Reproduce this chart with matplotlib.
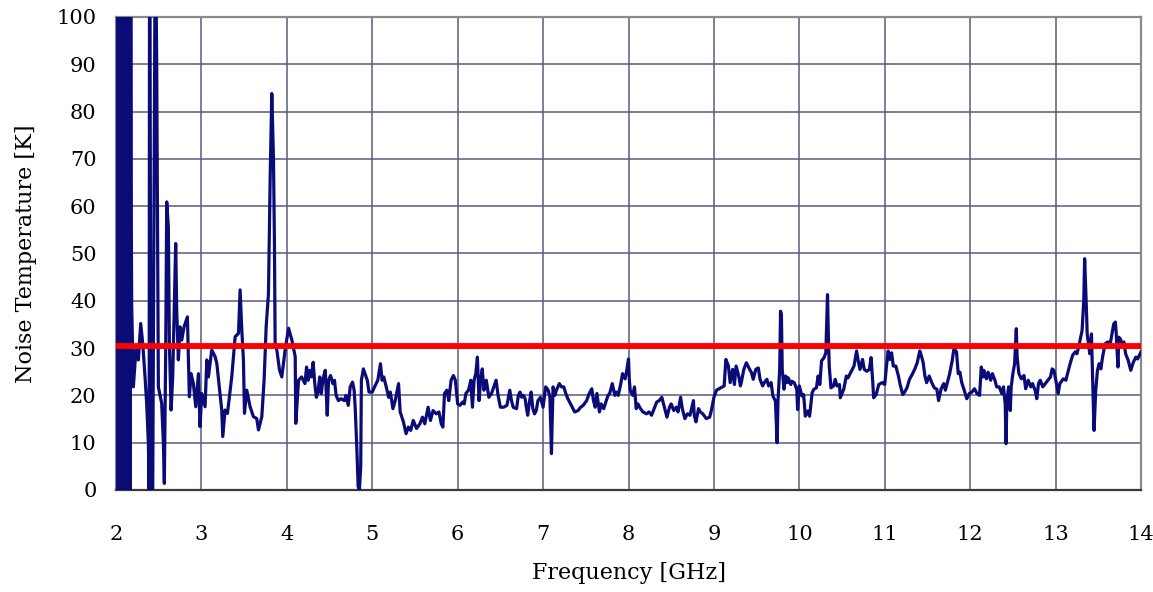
import matplotlib
matplotlib.use("Agg")
import matplotlib.pyplot as plt

# lectura aproximada de la curva de ruido, por tramos (GHz, K)
tramo_2_4 = [
    (2.000, 100), (2.004, 0), (2.022, 0), (2.026, 100), (2.030, 0), (2.034, 100),
    (2.038, 0), (2.042, 100), (2.046, 0), (2.050, 100), (2.054, 0), (2.058, 100),
    (2.062, 0), (2.066, 100), (2.070, 0), (2.074, 100), (2.078, 0), (2.082, 100),
    (2.086, 0), (2.090, 100), (2.094, 0), (2.098, 100), (2.102, 0), (2.106, 100),
    (2.110, 0), (2.114, 100), (2.118, 0), (2.122, 100), (2.126, 0), (2.130, 100),
    (2.134, 0), (2.138, 100), (2.142, 0), (2.146, 100), (2.150, 0), (2.154, 100),
    (2.158, 0), (2.162, 100), (2.166, 0), (2.170, 100), (2.176, 100), (2.180, 53.5),
    (2.184, 38.7), (2.190, 33.8), (2.203, 21.8), (2.234, 29.6), (2.262, 27.5),
    (2.289, 35.2), (2.313, 31.0), (2.340, 23.9), (2.359, 18.3), (2.379, 9.9),
    (2.388, 0), (2.392, 100), (2.398, 100), (2.410, 0), (2.430, 0), (2.455, 100),
    (2.472, 100), (2.477, 88.7), (2.496, 21.8), (2.535, 18.3), (2.555, 9.9),
    (2.566, 1.4), (2.582, 29.6), (2.594, 60.9), (2.613, 55.6), (2.625, 31.0),
    (2.645, 16.9), (2.664, 23.9), (2.699, 52.1), (2.711, 38.0), (2.730, 27.5),
    (2.750, 34.5), (2.770, 31.7), (2.797, 34.5), (2.836, 36.6), (2.848, 27.5),
    (2.859, 19.7), (2.879, 24.6), (2.906, 22.5), (2.934, 17.6), (2.965, 24.6),
    (2.984, 13.4), (3.004, 20.4), (3.043, 17.6), (3.063, 27.5), (3.082, 23.9),
    (3.121, 29.6), (3.160, 28.2), (3.180, 26.8), (3.238, 16.9), (3.250, 11.3),
    (3.277, 16.9), (3.305, 16.2), (3.355, 23.9), (3.395, 32.4), (3.434, 33.1),
    (3.453, 42.3), (3.473, 33.8), (3.492, 27.5), (3.504, 16.2), (3.531, 21.1),
    (3.570, 17.6), (3.609, 15.5), (3.648, 15.1), (3.668, 12.7), (3.707, 15.5),
    (3.734, 23.2), (3.758, 34.5), (3.785, 41.5), (3.805, 66.2), (3.824, 83.8),
    (3.844, 69.7), (3.855, 52.1), (3.863, 31.0), (3.883, 29.6), (3.914, 25.4),
    (3.941, 23.9), (3.980, 29.6), (4.020, 34.2), (4.059, 31.7), (4.098, 28.2),
    (4.105, 14.1), (4.137, 23.2),
]

tramo_4_6 = [
    (4.173, 23.9), (4.212, 22.5), (4.231, 26.0), (4.250, 23.2), (4.269, 25.3),
    (4.288, 23.9), (4.308, 27.0), (4.327, 22.5), (4.346, 19.6), (4.365, 20.7),
    (4.385, 23.9), (4.404, 20.4), (4.423, 23.5), (4.450, 25.3), (4.473, 15.8),
    (4.488, 23.2), (4.512, 24.2), (4.538, 22.5), (4.558, 23.2), (4.577, 20.0),
    (4.604, 18.9), (4.635, 19.3), (4.673, 18.9), (4.692, 20.0), (4.719, 17.9),
    (4.742, 21.8), (4.769, 22.8), (4.788, 21.1), (4.800, 17.5), (4.819, 9.1),
    (4.835, 0.7), (4.850, 0), (4.865, 4.9), (4.873, 23.2), (4.896, 25.6),
    (4.923, 24.2), (4.942, 23.2), (4.962, 20.7), (5.000, 20.7), (5.027, 21.8),
    (5.065, 23.2), (5.096, 26.7), (5.115, 23.2), (5.135, 23.9), (5.173, 21.1),
    (5.192, 19.6), (5.212, 20.7), (5.242, 17.2), (5.269, 18.9), (5.308, 22.5),
    (5.327, 16.5), (5.365, 14.4), (5.396, 11.9), (5.423, 13.3), (5.450, 12.6),
    (5.480, 14.7), (5.519, 13.0), (5.558, 14.0), (5.588, 15.4), (5.615, 14.0),
    (5.654, 17.5), (5.681, 14.7), (5.712, 16.8), (5.750, 16.1), (5.781, 16.5),
    (5.808, 14.0), (5.827, 13.3), (5.846, 20.4), (5.873, 21.1), (5.896, 18.9),
    (5.923, 23.2), (5.950, 24.2), (5.973, 23.2), (6.000, 18.2), (6.027, 17.9),
    (6.058, 18.6), (6.077, 18.2), (6.096, 20.4), (6.127, 21.1), (6.154, 23.2),
    (6.173, 17.5), (6.192, 23.2), (6.212, 24.6), (6.231, 28.1), (6.250, 18.9),
    (6.269, 23.2), (6.288, 25.6), (6.308, 21.1), (6.335, 23.2), (6.365, 19.6),
    (6.396, 20.4), (6.423, 21.8), (6.450, 23.2), (6.473, 20.0), (6.500, 17.5),
    (6.538, 17.5), (6.577, 17.9),
]

tramo_6_9 = [
    (6.61, 21.1), (6.63, 18.9), (6.65, 17.5), (6.69, 17.2), (6.71, 20.0), (6.73, 20.7),
    (6.75, 19.6), (6.77, 20.0), (6.79, 19.3), (6.80, 17.9), (6.82, 15.8), (6.84, 18.6),
    (6.86, 20.7), (6.88, 17.2), (6.90, 16.1), (6.92, 16.8), (6.94, 18.9), (6.97, 19.6),
    (7.00, 17.5), (7.03, 21.8), (7.06, 21.1), (7.08, 19.6), (7.09, 13.3), (7.098, 7.7),
    (7.105, 13.3), (7.117, 21.8), (7.137, 20.0), (7.156, 21.1), (7.19, 22.5),
    (7.215, 21.8), (7.242, 21.8), (7.266, 20.4), (7.29, 19.3), (7.33, 17.9),
    (7.37, 16.5), (7.41, 16.8), (7.44, 17.5), (7.47, 17.9), (7.51, 18.9), (7.54, 20.4),
    (7.57, 21.4), (7.59, 18.9), (7.61, 17.5), (7.63, 20.4), (7.66, 16.5), (7.68, 18.2),
    (7.71, 17.2), (7.74, 18.9), (7.76, 20.0), (7.78, 20.4), (7.81, 22.5), (7.84, 20.0),
    (7.86, 20.7), (7.88, 20.0), (7.91, 22.5), (7.93, 24.6), (7.96, 23.5), (7.98, 25.3),
    (8.00, 27.7), (8.01, 23.2), (8.02, 21.1), (8.05, 20.0), (8.07, 21.8), (8.09, 17.2),
    (8.11, 18.2), (8.14, 17.2), (8.17, 16.5), (8.21, 16.1), (8.24, 16.5), (8.27, 15.8),
    (8.30, 17.2), (8.33, 18.6), (8.36, 18.9), (8.39, 19.6), (8.41, 18.2), (8.45, 15.4),
    (8.48, 17.5), (8.50, 18.2), (8.53, 16.8), (8.56, 17.5), (8.58, 16.5), (8.61, 19.6),
    (8.63, 17.2), (8.66, 15.1), (8.69, 16.1), (8.72, 15.8), (8.76, 18.9), (8.77, 15.8),
    (8.79, 14.4), (8.82, 17.2), (8.84, 16.5), (8.87, 16.1), (8.91, 15.1), (8.95, 15.4),
    (8.97, 16.8), (9.00, 19.6), (9.03, 21.1),
]

tramo_9_11 = [
    (9.08, 21.6), (9.12, 22.0), (9.14, 27.6), (9.17, 26.2), (9.19, 22.7), (9.22, 25.5),
    (9.24, 22.3), (9.26, 26.2), (9.29, 24.1), (9.31, 22.0), (9.32, 22.7), (9.35, 25.5),
    (9.38, 26.9), (9.41, 25.8), (9.44, 24.8), (9.46, 23.4), (9.49, 25.5), (9.52, 25.8),
    (9.54, 23.4), (9.57, 22.0), (9.59, 22.7), (9.62, 23.4), (9.64, 22.0), (9.67, 22.7),
    (9.69, 19.9), (9.72, 18.8), (9.74, 10.0), (9.75, 18.8), (9.77, 25.5), (9.78, 37.8),
    (9.79, 37.1), (9.80, 25.5), (9.82, 21.3), (9.84, 24.1), (9.86, 22.7), (9.87, 23.7),
    (9.90, 22.3), (9.91, 23.0), (9.94, 22.7), (9.97, 21.3), (9.98, 17.0), (10.00, 22.0),
    (10.01, 21.3), (10.03, 19.9), (10.05, 20.2), (10.07, 15.6), (10.10, 16.7),
    (10.12, 15.6), (10.15, 20.6), (10.17, 21.3), (10.20, 21.6), (10.22, 24.1),
    (10.24, 22.3), (10.26, 27.3), (10.29, 28.0), (10.31, 29.0), (10.33, 41.3),
    (10.34, 32.5), (10.35, 26.2), (10.37, 21.6), (10.40, 22.0), (10.42, 23.4),
    (10.44, 22.0), (10.47, 22.3), (10.48, 19.5), (10.52, 21.3), (10.55, 24.1),
    (10.57, 23.7), (10.60, 24.8), (10.62, 25.5), (10.64, 26.2), (10.67, 29.4),
    (10.69, 27.3), (10.71, 25.5), (10.74, 27.6), (10.76, 25.5), (10.79, 25.1),
    (10.82, 25.5), (10.84, 28.0), (10.86, 22.7), (10.87, 19.5), (10.90, 20.2),
    (10.93, 22.3), (10.97, 22.7), (11.00, 22.3), (11.02, 26.2), (11.04, 29.4),
    (11.06, 27.6), (11.08, 29.0), (11.10, 26.2), (11.13, 26.2), (11.16, 24.1),
    (11.18, 22.3), (11.21, 20.2), (11.23, 20.6), (11.26, 21.6), (11.29, 23.4),
    (11.32, 24.4), (11.35, 25.5), (11.38, 26.9), (11.41, 29.4), (11.43, 28.3),
    (11.45, 26.9), (11.47, 24.1), (11.49, 22.7), (11.52, 24.1), (11.55, 22.7),
    (11.58, 21.6), (11.61, 21.3),
]

tramo_11_14 = [
    (11.63, 18.9), (11.66, 21.4), (11.69, 22.5), (11.71, 21.1), (11.74, 23.2),
    (11.76, 24.6), (11.79, 27.4), (11.81, 29.9), (11.84, 29.2), (11.86, 24.6),
    (11.88, 24.9), (11.90, 22.8), (11.93, 21.1), (11.96, 19.3), (11.99, 20.4),
    (12.02, 20.7), (12.05, 21.4), (12.08, 20.4), (12.11, 20.0), (12.13, 26.0),
    (12.15, 23.9), (12.16, 25.3), (12.19, 23.5), (12.21, 24.9), (12.24, 23.2),
    (12.26, 24.6), (12.29, 23.2), (12.31, 21.8), (12.34, 21.8), (12.37, 20.4),
    (12.39, 21.8), (12.41, 18.2), (12.42, 9.8), (12.43, 18.9), (12.45, 21.8),
    (12.47, 16.8), (12.48, 21.8), (12.50, 24.6), (12.52, 26.7), (12.54, 34.1),
    (12.55, 28.1), (12.57, 24.6), (12.60, 23.5), (12.63, 24.2), (12.65, 21.4),
    (12.68, 23.2), (12.71, 21.8), (12.73, 22.5), (12.76, 21.1), (12.78, 19.3),
    (12.80, 22.5), (12.82, 23.2), (12.85, 21.8), (12.88, 22.5), (12.91, 23.2),
    (12.94, 23.9), (12.96, 25.6), (12.98, 25.3), (13.01, 22.5), (13.03, 20.4),
    (13.05, 22.5), (13.09, 23.5), (13.12, 23.2), (13.14, 24.6), (13.17, 26.7),
    (13.20, 28.5), (13.23, 29.2), (13.25, 28.8), (13.27, 30.2), (13.29, 32.0),
    (13.31, 33.7), (13.33, 40.1), (13.34, 48.9), (13.36, 38.7), (13.37, 33.0),
    (13.39, 30.2), (13.40, 28.8), (13.42, 33.0), (13.43, 26.0), (13.45, 12.6),
    (13.47, 21.1), (13.49, 25.3), (13.51, 26.7), (13.53, 25.6), (13.55, 28.1),
    (13.58, 30.9), (13.61, 31.3), (13.64, 30.9), (13.66, 33.0), (13.68, 35.1),
    (13.70, 35.5), (13.71, 33.0), (13.73, 26.0), (13.74, 32.3), (13.76, 31.9),
    (13.78, 30.6), (13.80, 31.3), (13.82, 28.8), (13.85, 27.4), (13.88, 25.3),
    (13.91, 27.0), (13.94, 28.1), (13.96, 27.7), (14.00, 29.2),
]

umbral_k = 30.5
ticks_x = list(range(2, 15))
ticks_y = list(range(0, 101, 10))

puntos = tramo_2_4 + tramo_4_6 + tramo_6_9 + tramo_9_11 + tramo_11_14
frecuencia = [p[0] for p in puntos]
temperatura = [p[1] for p in puntos]

plt.rcParams['font.family'] = ['DejaVu Serif']
plt.rcParams['path.simplify'] = False

fig = plt.figure(figsize=(11.53, 5.92), dpi=100)
ax = fig.add_axes([0.1006, 0.1723, 0.889, 0.799])

ax.plot(frecuencia, temperatura, color='#0b0b78', linewidth=2.3, zorder=3)
ax.axhline(umbral_k, color='#ff0000', linewidth=4.2, zorder=4)

ax.set_xlim(2, 14)
ax.set_ylim(0, 100)
ax.set_xticks(ticks_x)
ax.set_yticks(ticks_y)
ax.grid(True, color='#5a5a7e', linewidth=1.1)
ax.set_axisbelow(True)
ax.tick_params(axis='both', length=0, labelsize=15)
ax.tick_params(axis='x', pad=25)
ax.tick_params(axis='y', pad=14)

for lado in ['top', 'right', 'left']:
    ax.spines[lado].set_color('#8a8a8a')
    ax.spines[lado].set_linewidth(1.6)
ax.spines['bottom'].set_color('#3a3a3a')
ax.spines['bottom'].set_linewidth(1.6)

ax.set_xlabel("Frequency [GHz]", fontsize=16, labelpad=13)
ax.set_ylabel("Noise Temperature [K]", fontsize=16, labelpad=14)

fig.savefig("out.png", dpi=100)
